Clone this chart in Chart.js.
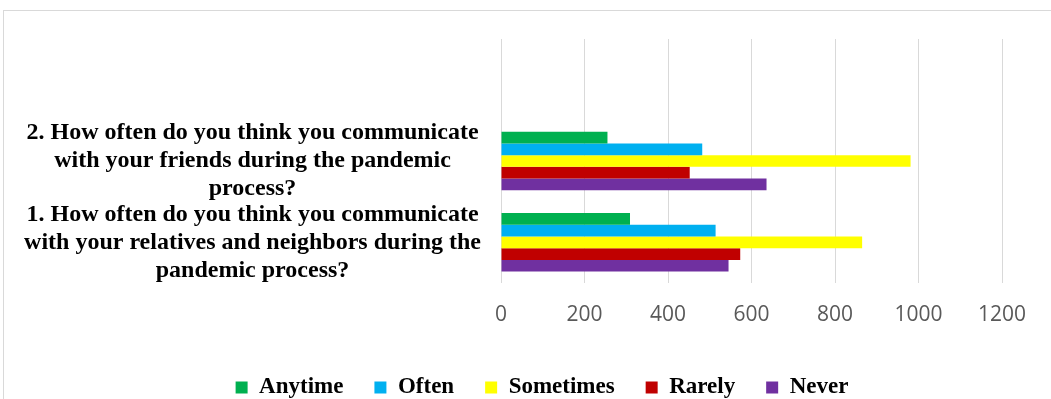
<!DOCTYPE html>
<html>
<head>
<meta charset="utf-8">
<script src="https://cdn.jsdelivr.net/npm/chart.js@4.4.1/dist/chart.umd.min.js"></script>
<style>
  html, body { margin: 0; padding: 0; background: #fff; }
  #wrap { position: relative; width: 1051px; height: 399px; overflow: hidden; }
  #frame { position: absolute; left: 3px; top: 10px; width: 1100px; height: 500px; border: 1px solid #d9d9d9; }
  canvas { position: absolute; left: 0; top: 0; }
</style>
</head>
<body>
<div id="wrap">
  <div id="frame"></div>
  <canvas id="chart" width="1051" height="409"></canvas>
</div>
<script>
// questions, top to bottom (the first row is empty in the original)
const questions = [
  "",
  ["2. How often do you think you communicate", "with your friends during the pandemic", "process?"],
  ["1. How often do you think you communicate", "with your relatives and neighbors during the", "pandemic process?"]
];

const anytime   = [null, 255, 309];
const often     = [null, 482, 514];
const sometimes = [null, 981, 865];
const rarely    = [null, 452, 573];
const never     = [null, 636, 545];

const xTicks = [0, 200, 400, 600, 800, 1000, 1200];

const serif = "'Liberation Serif', 'Times New Roman', serif";

// the legend in the original sits a bit right of the canvas centre
const shiftLegend = {
  id: 'shiftLegend',
  afterLayout(chart) {
    chart.legend.left += 31;
    chart.legend.right += 31;
  }
};

const ctx = document.getElementById('chart').getContext('2d');
new Chart(ctx, {
  type: 'bar',
  data: {
    labels: questions,
    datasets: [
      { label: 'Anytime',   data: anytime,   backgroundColor: '#00B050' },
      { label: 'Often',     data: often,     backgroundColor: '#00B0F0' },
      { label: 'Sometimes', data: sometimes, backgroundColor: '#FFFF00' },
      { label: 'Rarely',    data: rarely,    backgroundColor: '#C00000' },
      { label: 'Never',     data: never,     backgroundColor: '#7030A0' }
    ]
  },
  options: {
    indexAxis: 'y',
    responsive: false,
    animation: false,
    categoryPercentage: 0.72,
    barPercentage: 1,
    layout: { padding: { top: 39, left: 20, right: 49, bottom: 0 } },
    plugins: {
      tooltip: { enabled: false },
      legend: {
        position: 'bottom',
        labels: {
          boxWidth: 12,
          boxHeight: 12,
          padding: 31,
          color: '#000',
          font: { family: serif, size: 23, weight: 'bold', lineHeight: 1.2 }
        }
      }
    },
    scales: {
      x: {
        min: xTicks[0],
        max: xTicks[xTicks.length - 1],
        afterBuildTicks: (scale) => { scale.ticks = xTicks.map(v => ({ value: v })); },
        afterFit: (scale) => { scale.height = 62; },
        grid: { color: '#d9d9d9', lineWidth: 1, drawTicks: false },
        border: { display: false },
        ticks: {
          padding: 19,
          color: '#595959',
          font: { family: "'Open Sans', sans-serif", size: 21 },
          callback: (v) => String(v)
        }
      },
      y: {
        afterFit: (scale) => {
          scale.width = 481;
          scale.paddingTop = 0;
          scale.paddingBottom = 0;
        },
        grid: { display: false },
        border: { display: false },
        ticks: {
          autoSkip: false,
          crossAlign: 'center',
          padding: 12,
          color: '#000',
          font: { family: serif, size: 24, weight: 'bold', lineHeight: 28 / 24 }
        }
      }
    }
  },
  plugins: [shiftLegend]
});
</script>
</body>
</html>
